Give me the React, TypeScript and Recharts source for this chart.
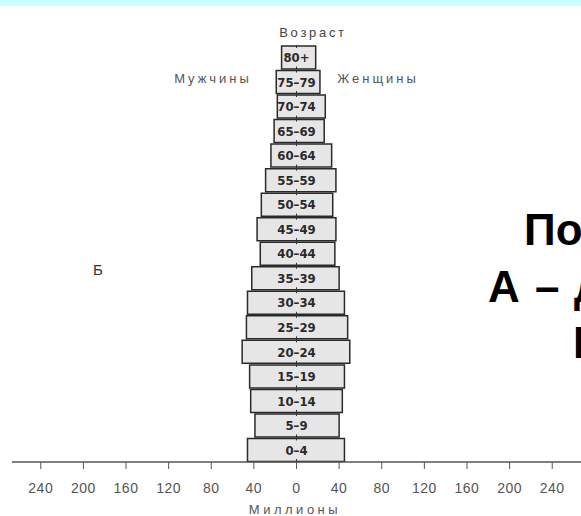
import React from 'react';
import { BarChart, Bar, XAxis, YAxis, LabelList, ReferenceLine } from 'recharts';

const ageGroups = ['80+', '75–79', '70–74', '65–69', '60–64', '55–59', '50–54', '45–49', '40–44', '35–39', '30–34', '25–29', '20–24', '15–19', '10–14', '5–9', '0–4'];
const men = [14, 19, 18, 21, 24, 29, 33, 37, 34, 42, 46, 47, 51, 44, 43, 39, 46];
const women = [18, 22, 27, 26, 33, 37, 34, 37, 36, 40, 45, 48, 50, 45, 43, 40, 45];
const axisTicks = [-240, -200, -160, -120, -80, -40, 0, 40, 80, 120, 160, 200, 240];

const data = ageGroups.map((age, i) => ({ age, men: men[i], women: women[i] }));

const AgeLabel = (props: any) => {
  const { x, y, width, height, index, value } = props;
  const m = men[index];
  const w = women[index];
  const zeroX = x + (width * m) / (m + w);
  return (
    <text
      x={zeroX}
      y={y + height / 2}
      dy="0.36em"
      textAnchor="middle"
      fontFamily="DejaVu Sans Condensed, DejaVu Sans"
      fontWeight="bold"
      fontSize={13}
      fill="#2a2a2a"
    >
      {value}
    </text>
  );
};

export default function App() {
  return (
    <div style={{ position: 'absolute', left: 0, top: 0, width: 581, height: 516, background: '#ffffff', overflow: 'hidden' }}>
      <div style={{ position: 'absolute', left: 0, top: 0, width: 581, height: 6, background: '#ccffff' }} />
      <BarChart
        width={581}
        height={516}
        data={data}
        layout="vertical"
        margin={{ top: 45, right: 0, bottom: 24, left: 12 }}
        barCategoryGap={1}
      >
        <XAxis
          type="number"
          domain={[-267, 267]}
          ticks={axisTicks}
          tickFormatter={(v: number) => String(Math.abs(v))}
          height={30}
          axisLine={{ stroke: '#555', strokeWidth: 1.5 }}
          tickLine={{ stroke: '#555', strokeWidth: 1 }}
          tickSize={7}
          tickMargin={14}
          tick={{ fill: '#555', fontSize: 14, fontFamily: 'Liberation Sans', letterSpacing: 0.5 }}
          allowDataOverflow
        />
        <YAxis type="category" dataKey="age" hide />
        <Bar
          dataKey={(d: any) => [-d.men, d.women]}
          fill="#e6e6e6"
          stroke="#2a2a2a"
          strokeWidth={1.5}
          isAnimationActive={false}
        >
          <LabelList dataKey="age" content={AgeLabel} />
        </Bar>
        <ReferenceLine x={0} stroke="#333" strokeWidth={1} strokeDasharray="6 18.53" strokeDashoffset={3} />
        <text x={313} y={32} dy="0.36em" textAnchor="middle" fontFamily="Liberation Sans" fontSize={13} fill="#444" letterSpacing={2.7}>Возраст</text>
        <text x={213} y={78} dy="0.36em" textAnchor="middle" fontFamily="Liberation Sans" fontSize={13} fill="#555" letterSpacing={3}>Мужчины</text>
        <text x={378} y={78} dy="0.36em" textAnchor="middle" fontFamily="Liberation Sans" fontSize={13} fill="#555" letterSpacing={3}>Женщины</text>
        <text x={295} y={509} dy="0.36em" textAnchor="middle" fontFamily="Liberation Sans" fontSize={13} fill="#555" letterSpacing={3.5}>Миллионы</text>
        <text x={98} y={270} dy="0.36em" textAnchor="middle" fontFamily="Liberation Sans" fontSize={15} fill="#333">Б</text>
        <text x={524} y={245} fontFamily="Liberation Sans" fontWeight="bold" fontSize={44} fill="#000">По</text>
        <text x={488} y={302} fontFamily="Liberation Sans" fontWeight="bold" fontSize={44} fill="#000">А</text>
        <text x={535} y={302} fontFamily="Liberation Sans" fontWeight="bold" fontSize={44} fill="#000">–</text>
        <text x={574} y={302} fontFamily="Liberation Sans" fontWeight="bold" fontSize={44} fill="#000">д</text>
        <text x={573} y={358} fontFamily="Liberation Sans" fontWeight="bold" fontSize={44} fill="#000">Б</text>
      </BarChart>
    </div>
  );
}
